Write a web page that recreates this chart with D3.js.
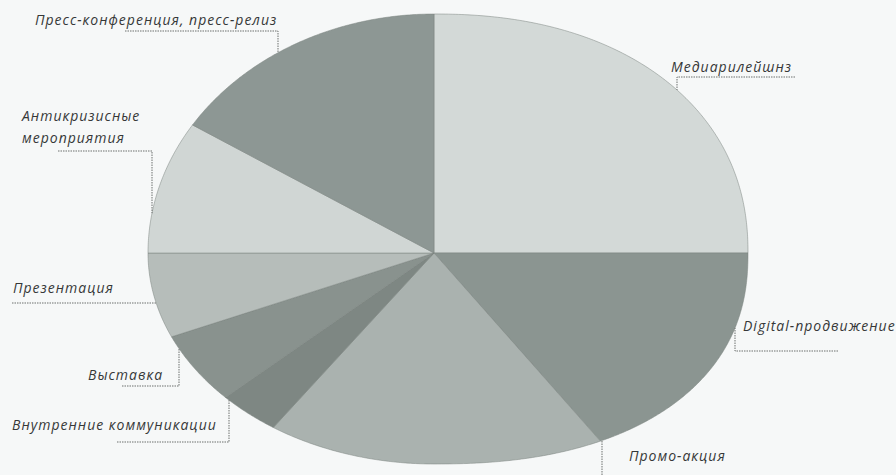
<!DOCTYPE html>
<html>
<head>
<meta charset="utf-8">
<script src="https://cdnjs.cloudflare.com/ajax/libs/d3/7.8.5/d3.min.js"></script>
<style>
  body { margin: 0; background: #f6f8f8; }
  .label { font-family: "Open Sans", sans-serif; font-style: italic; font-size: 14px; letter-spacing: 1px; fill: #363838; }
  .leader { fill: none; stroke: #6d706f; stroke-width: 1; stroke-dasharray: 1.5 1; }
</style>
</head>
<body>
<div id="chart"></div>
<script>
// Slice categories and shares (%), clockwise from 12 o'clock
const categories = ["Медиарилейшнз", "Digital-продвижение", "Промо-акция", "Внутренние коммуникации",
    "Выставка", "Презентация", "Антикризисные мероприятия", "Пресс-конференция, пресс-релиз"];
const shares = [25, 17, 17.5, 3.5, 5.5, 6.5, 9, 16];
const sliceColors = ["#d3d9d7", "#8b9591", "#aab2af", "#7e8783", "#89928e", "#b6bdba", "#d0d6d4", "#8d9794"];

// Label layout: text lines, text position, leader elbow (leader ends on the pie edge)
const labelLayout = [
    { lines: ["Медиарилейшнз"], x: 671, y: 72, leader: { from: [795, 77], elbow: [677, 77], to: "v" } },
    { lines: ["Digital-продвижение"], x: 743, y: 331, leader: { from: [838, 351], elbow: [735, 351], to: "v" } },
    { lines: ["Промо-акция"], x: 629, y: 461, leader: { from: [602, 480], elbow: [602, 480], to: "v" } },
    { lines: ["Внутренние коммуникации"], x: 12, y: 430, leader: { from: [117, 442], elbow: [229, 442], to: "v" } },
    { lines: ["Выставка"], x: 88, y: 380, leader: { from: [122, 386], elbow: [179, 386], to: "v" } },
    { lines: ["Презентация"], x: 13, y: 293, leader: { from: [12, 303], elbow: [12, 303], to: "h" } },
    { lines: ["Антикризисные", "мероприятия"], x: 22, y: 121, leader: { from: [58, 151], elbow: [152, 151], to: "v" } },
    { lines: ["Пресс-конференция, пресс-релиз"], x: 35, y: 25, leader: { from: [125, 31], elbow: [278, 31], to: "v" } }
];

const width = 896, height = 475;
// Pie apex and the four quarter radii of the (slightly distorted, scanned) ellipse
const cx = 434, cy = 253;
const rTop = 239, rBottom = 211, rLeft = 286, rRight = 314;
// superellipse exponents per quadrant
const expo = { tr: 2.2, br: 2.3, bl: 2, tl: 2 };

function quad(s, c) {
    if (s >= 0 && c >= 0) return { rx: rRight, ry: rTop, n: expo.tr };
    if (s >= 0) return { rx: rRight, ry: rBottom, n: expo.br };
    if (c < 0) return { rx: rLeft, ry: rBottom, n: expo.bl };
    return { rx: rLeft, ry: rTop, n: expo.tl };
}

// point on the pie edge at pie angle a (radians, clockwise from top)
function edgePoint(a) {
    const s = Math.sin(a), c = Math.cos(a);
    const q = quad(s, c);
    const e = 2 / q.n;
    return [cx + Math.sign(s) * q.rx * Math.pow(Math.abs(s), e),
            cy - Math.sign(c) * q.ry * Math.pow(Math.abs(c), e)];
}

// edge y for a vertical line at x (top or bottom side), edge x for a horizontal line at y
function edgeAtX(x, top) {
    const dx = x - cx;
    const rx = dx >= 0 ? rRight : rLeft;
    const ry = top ? rTop : rBottom;
    const n = dx >= 0 ? (top ? expo.tr : expo.br) : (top ? expo.tl : expo.bl);
    const u = Math.min(1, Math.abs(dx) / rx);
    const v = Math.pow(1 - Math.pow(u, n), 1 / n);
    return top ? cy - ry * v : cy + ry * v;
}
function edgeAtY(y, left) {
    const dy = y - cy;
    const ry = dy >= 0 ? rBottom : rTop;
    const rx = left ? rLeft : rRight;
    const n = left ? (dy >= 0 ? expo.bl : expo.tl) : (dy >= 0 ? expo.br : expo.tr);
    const v = Math.min(1, Math.abs(dy) / ry);
    const u = Math.pow(1 - Math.pow(v, n), 1 / n);
    return left ? cx - rx * u : cx + rx * u;
}

const data = categories.map((name, i) => ({ name, value: shares[i], color: sliceColors[i] }));
const pie = d3.pie().sort(null).value(d => d.value);
const arcs = pie(data);

const svg = d3.select("#chart").append("svg")
    .attr("width", width)
    .attr("height", height);

svg.append("rect").attr("width", width).attr("height", height).attr("fill", "#f6f8f8");

// Slices: apex -> sampled edge -> apex
function slicePath(d) {
    const p = d3.path();
    p.moveTo(cx, cy);
    const steps = Math.max(2, Math.ceil((d.endAngle - d.startAngle) / (Math.PI / 360)));
    for (let k = 0; k <= steps; k++) {
        const a = d.startAngle + (d.endAngle - d.startAngle) * k / steps;
        const [x, y] = edgePoint(a);
        p.lineTo(x, y);
    }
    p.closePath();
    return p.toString();
}

svg.append("g").selectAll("path")
    .data(arcs)
    .enter().append("path")
    .attr("d", slicePath)
    .attr("fill", d => d.data.color)
    .attr("stroke", "#7a827f")
    .attr("stroke-width", 0.5)
    .attr("stroke-linejoin", "round");

// Leaders
const leaders = svg.append("g");
labelLayout.forEach((l, i) => {
    const [fx, fy] = l.leader.from;
    const [ex, ey] = l.leader.elbow;
    let end;
    if (l.leader.to === "v") {
        const mid = (arcs[i].startAngle + arcs[i].endAngle) / 2;
        const top = Math.cos(mid) > 0;
        end = [ex, edgeAtX(ex, top)];
    } else {
        end = [edgeAtY(ey, ex < cx), ey];
    }
    leaders.append("path")
        .attr("class", "leader")
        .attr("d", d3.line()([[fx, fy], [ex, ey], end]));
});

// Labels
const labels = svg.append("g");
labelLayout.forEach(l => {
    const t = labels.append("text")
        .attr("class", "label")
        .attr("x", l.x)
        .attr("y", l.y);
    l.lines.forEach((line, j) => {
        t.append("tspan")
            .attr("x", l.x)
            .attr("dy", j === 0 ? 0 : 22)
            .text(line);
    });
});
</script>
</body>
</html>
